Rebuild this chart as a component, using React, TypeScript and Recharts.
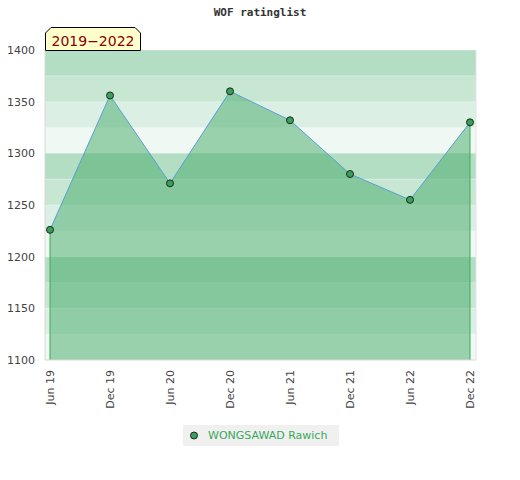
import { ComposedChart, Area, XAxis, YAxis, CartesianGrid, ReferenceLine } from 'recharts';

const chartTitle = 'WOF ratinglist';
const periodLabel = '2019−2022';
const playerName = 'WONGSAWAD Rawich';

const months = ['Jun 19', 'Dec 19', 'Jun 20', 'Dec 20', 'Jun 21', 'Dec 21', 'Jun 22', 'Dec 22'];
const ratings = [1226, 1356, 1271, 1360, 1332, 1280, 1255, 1330];

// band edges every 25 points; labels only on the multiples of 50
const bandEdges = [1100, 1125, 1150, 1175, 1200, 1225, 1250, 1275, 1300, 1325, 1350, 1375, 1400];

// minor ticks on the right axis, every 10 points
const minorTicks = Array.from({ length: 31 }, (_, i) => 1100 + i * 10);

const BAND_SHADES = ['#b4dec4', '#c8e7d3', '#dcefe4', '#eff8f2'];
const FONT = '"DejaVu Sans", sans-serif';

const data = months.map((m, i) => ({ month: m, rating: ratings[i] }));
const first = data[0];
const last = data[data.length - 1];

function XTick({ x, y, payload }: any) {
  return (
    <text
      transform={`translate(${x + 4},${y + 10}) rotate(-90)`}
      textAnchor="end"
      fontSize={11}
      fontFamily={FONT}
      fill="#444"
    >
      {payload.value}
    </text>
  );
}

function RightTick({ x, y, payload }: any) {
  const major = payload.value % 50 === 0;
  return (
    <g>
      <line x1={x - (major ? 6 : 5)} x2={x - 2} y1={y} y2={y} stroke="#333" strokeWidth={1} />
      {major && (
        <text x={x + 7} y={y} dy={4} fontSize={11} fontFamily={FONT} fill="#222">
          {payload.value}
        </text>
      )}
    </g>
  );
}

export default function App() {
  return (
    <div style={{ position: 'absolute', left: 0, top: 0, width: 520, height: 480, background: '#fff' }}>
      <ComposedChart width={520} height={480} data={data} margin={{ top: 50, right: 0, bottom: 0, left: 0 }}>
        <CartesianGrid
          yAxisId="left"
          vertical={false}
          horizontalFill={BAND_SHADES}
          fillOpacity={1}
          stroke="#ffffff"
          strokeOpacity={0.35}
        />
        <XAxis
          dataKey="month"
          padding={{ left: 5, right: 6 }}
          height={120}
          tickSize={0}
          tickMargin={0}
          tick={<XTick />}
          axisLine={{ stroke: '#d8d8d8' }}
          interval={0}
        />
        <YAxis
          yAxisId="left"
          domain={[1100, 1400]}
          ticks={bandEdges}
          interval={0}
          width={45}
          tickSize={0}
          tickMargin={10}
          tickLine={false}
          tickFormatter={(v: number) => (v % 50 === 0 ? String(v) : '')}
          axisLine={{ stroke: '#d8d8d8' }}
          tick={{ fontSize: 11, fontFamily: FONT, fill: '#444' }}
        />
        <YAxis
          yAxisId="right"
          orientation="right"
          domain={[1100, 1400]}
          ticks={minorTicks}
          width={44}
          tickSize={0}
          tickMargin={0}
          tickLine={false}
          axisLine={{ stroke: '#e4e4e4' }}
          tick={<RightTick />}
          interval={0}
        />
        <Area
          yAxisId="left"
          type="linear"
          dataKey="rating"
          baseValue={1100}
          stroke="#5aa0d6"
          strokeWidth={1}
          fill="#44aa68"
          fillOpacity={0.5}
          dot={{ r: 3.5, fill: '#3a9e5a', stroke: '#1c2c20', strokeWidth: 1, fillOpacity: 1 }}
          isAnimationActive={false}
        />
        <ReferenceLine
          yAxisId="left"
          segment={[{ x: first.month, y: first.rating }, { x: first.month, y: 1100 }]}
          stroke="#3aaa5a"
        />
        <ReferenceLine
          yAxisId="left"
          segment={[{ x: last.month, y: last.rating }, { x: last.month, y: 1100 }]}
          stroke="#3aaa5a"
        />
      </ComposedChart>

      <svg width={520} height={60} style={{ position: 'absolute', left: 0, top: 0, pointerEvents: 'none' }}>
        <text
          x={260}
          y={16}
          textAnchor="middle"
          fontSize={11}
          fontWeight="bold"
          fontFamily='"DejaVu Sans Mono", monospace'
          fill="#333"
        >
          {chartTitle}
        </text>
        <path
          d="M45.5,50.5 L45.5,33 L51,27.5 L135,27.5 L140.5,33 L140.5,50.5 Z"
          fill="#ffffcc"
          stroke="#000"
          strokeWidth={1}
        />
        <text x={93} y={45.5} textAnchor="middle" fontSize={14} fontFamily={FONT} fill="#8b0000">
          {periodLabel}
        </text>
      </svg>

      <div
        style={{
          position: 'absolute',
          left: 183,
          top: 425,
          width: 156,
          height: 21,
          background: '#f0f0f0',
          display: 'flex',
          alignItems: 'center',
          fontFamily: FONT,
          fontSize: 11,
          color: '#3aa85c',
        }}
      >
        <svg width={25} height={21}>
          <circle cx={11} cy={10.5} r={3.5} fill="#3a9e5a" stroke="#1c2c20" strokeWidth={1} />
        </svg>
        <span>{playerName}</span>
      </div>
    </div>
  );
}
